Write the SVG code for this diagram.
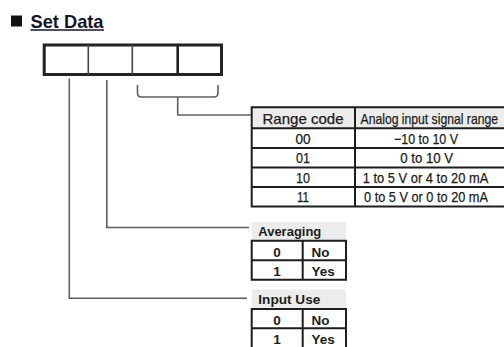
<svg xmlns="http://www.w3.org/2000/svg" width="504" height="347" viewBox="0 0 504 347">
  <style>
    .title { font-family: "Liberation Sans", Arial, sans-serif; font-weight: bold; font-size: 18.5px; fill: #15152a; }
    .rt { font-family: "Liberation Sans", Arial, sans-serif; font-size: 14.5px; fill: #1c1c1c; stroke: #1c1c1c; stroke-width: 0.25; }
    .lbl { font-family: "Liberation Sans", Arial, sans-serif; font-weight: bold; font-size: 13.5px; fill: #1c1c1c; }
    .cell { font-family: "Liberation Sans", Arial, sans-serif; font-weight: bold; font-size: 13.5px; fill: #1c1c1c; }
    .grid { stroke: #1e1e1e; stroke-width: 2; fill: none; }
    .lead { stroke: #5e5e5e; stroke-width: 1.6; fill: none; }
    .hdr { fill: #ececec; }
  </style>

  <!-- heading -->
  <g id="heading">
    <rect x="11" y="15.5" width="11" height="11" fill="#111"/>
    <text class="title" x="30.5" y="27.5" textLength="73" lengthAdjust="spacingAndGlyphs">Set Data</text>
    <line x1="30.5" y1="30" x2="104" y2="30" stroke="#15152a" stroke-width="1.5"/>
  </g>

  <!-- four-digit setting field -->
  <g id="digits">
    <rect x="44.2" y="45" width="177.3" height="29.5" fill="#fff" stroke="#222" stroke-width="3"/>
    <line x1="88.3" y1="45" x2="88.3" y2="74.5" stroke="#444" stroke-width="1.6"/>
    <line x1="132.3" y1="45" x2="132.3" y2="74.5" stroke="#444" stroke-width="1.6"/>
    <line x1="177.7" y1="45" x2="177.7" y2="74.5" stroke="#222" stroke-width="2.6"/>
  </g>

  <!-- leader lines from the digits to the tables -->
  <g id="connectors">
    <path class="lead" d="M69.3,78.5 V298.3 H247"/>
    <path class="lead" d="M106.8,80 V227.5 H249"/>
    <path class="lead" stroke="#7a7a7a" d="M137.5,85 V93 Q137.5,97 141.5,97 H214 Q218,97 218,93 V85"/>
    <path class="lead" d="M177.7,97 V115 H251.5"/>
  </g>

  <!-- range code table -->
  <g id="range-table">
    <rect class="hdr" x="251.7" y="107.3" width="254" height="21"/>
    <path class="grid" d="M251.7,107.3 H506 M251.7,128.3 H506 M251.7,147.9 H506 M251.7,167.4 H506 M251.7,186.9 H506 M251.7,206.4 H506 M251.7,106.3 V207.4 M355,107.3 V206.4"/>
    <text class="rt" x="303" y="123.5" text-anchor="middle" textLength="81" lengthAdjust="spacingAndGlyphs">Range code</text>
    <text class="rt" x="360.5" y="123.5" textLength="137.5" lengthAdjust="spacingAndGlyphs">Analog input signal range</text>
    <text class="rt" x="303" y="143.5" text-anchor="middle" textLength="15" lengthAdjust="spacingAndGlyphs">00</text>
    <text class="rt" x="303" y="163" text-anchor="middle" textLength="14" lengthAdjust="spacingAndGlyphs">01</text>
    <text class="rt" x="303" y="182.5" text-anchor="middle" textLength="14" lengthAdjust="spacingAndGlyphs">10</text>
    <text class="rt" x="303" y="202" text-anchor="middle" textLength="12" lengthAdjust="spacingAndGlyphs">11</text>
    <text class="rt" x="426" y="143.5" text-anchor="middle" textLength="64" lengthAdjust="spacingAndGlyphs">−10 to 10 V</text>
    <text class="rt" x="426.7" y="163" text-anchor="middle" textLength="53" lengthAdjust="spacingAndGlyphs">0 to 10 V</text>
    <text class="rt" x="425.5" y="182.5" text-anchor="middle" textLength="125.5" lengthAdjust="spacingAndGlyphs">1 to 5 V or 4 to 20 mA</text>
    <text class="rt" x="426" y="202" text-anchor="middle" textLength="124" lengthAdjust="spacingAndGlyphs">0 to 5 V or 0 to 20 mA</text>
  </g>

  <!-- averaging table -->
  <g id="averaging-table">
    <rect class="hdr" x="251.7" y="222" width="94.3" height="18.7"/>
    <text class="lbl" x="258.3" y="235.5" textLength="63" lengthAdjust="spacingAndGlyphs">Averaging</text>
    <path class="grid" d="M250.7,240.7 H347 M251.7,260.2 H346 M250.7,279.7 H347 M251.7,240.7 V279.7 M302.7,240.7 V279.7 M346,240.7 V279.7"/>
    <text class="cell" x="277" y="256.5" text-anchor="middle">0</text>
    <text class="cell" x="311.5" y="256.5">No</text>
    <text class="cell" x="277" y="276" text-anchor="middle">1</text>
    <text class="cell" x="311.5" y="276">Yes</text>
  </g>

  <!-- input use table -->
  <g id="input-use-table">
    <rect class="hdr" x="251.7" y="289.5" width="94.3" height="19.5"/>
    <text class="lbl" x="258.3" y="304" textLength="62" lengthAdjust="spacingAndGlyphs">Input Use</text>
    <path class="grid" d="M250.7,309 H347 M251.7,328.3 H346 M250.7,348 H347 M251.7,309 V348 M302.7,309 V348 M346,309 V348"/>
    <text class="cell" x="277" y="325" text-anchor="middle">0</text>
    <text class="cell" x="311.5" y="325">No</text>
    <text class="cell" x="277" y="344" text-anchor="middle">1</text>
    <text class="cell" x="311.5" y="344">Yes</text>
  </g>
</svg>
